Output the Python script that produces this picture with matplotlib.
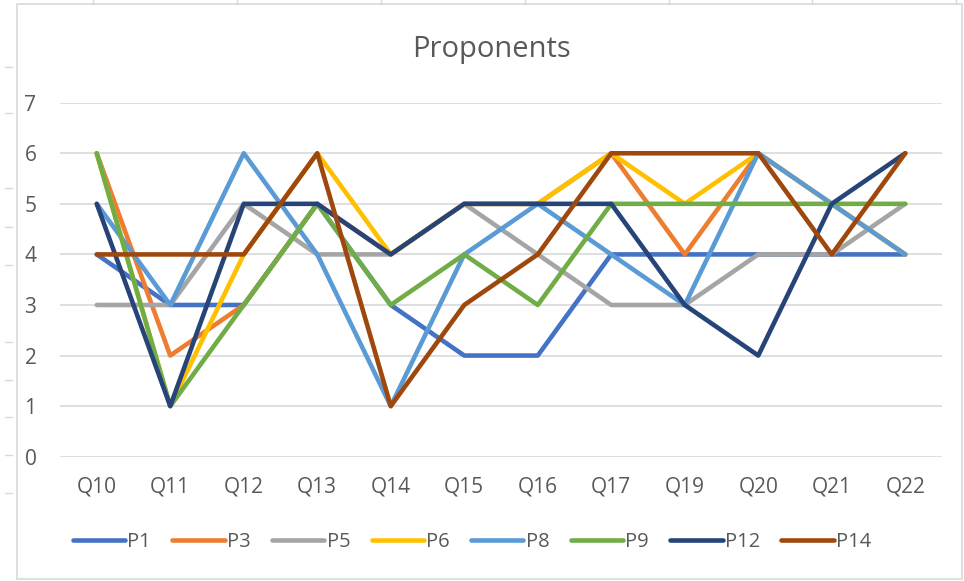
import matplotlib
matplotlib.use("Agg")
import matplotlib.pyplot as plt
from matplotlib.lines import Line2D
from matplotlib.patches import Rectangle

### Chart data
categories = ["Q10", "Q11", "Q12", "Q13", "Q14", "Q15",
              "Q16", "Q17", "Q19", "Q20", "Q21", "Q22"]
series_names = ["P1", "P3", "P5", "P6", "P8", "P9", "P12", "P14"]
p1 = [4, 3, 3, 5, 3, 2, 2, 4, 4, 4, 4, 4]
p3 = [6, 2, 3, 5, 4, 5, 5, 6, 4, 6, 5, 4]
p5 = [3, 3, 5, 4, 4, 5, 4, 3, 3, 4, 4, 5]
p6 = [6, 1, 4, 6, 4, 5, 5, 6, 5, 6, 5, 4]
p8 = [5, 3, 6, 4, 1, 4, 5, 4, 3, 6, 5, 4]
p9 = [6, 1, 3, 5, 3, 4, 3, 5, 5, 5, 5, 5]
p12 = [5, 1, 5, 5, 4, 5, 5, 5, 3, 2, 5, 6]
p14 = [4, 4, 4, 6, 1, 3, 4, 6, 6, 6, 4, 6]
y_ticks = [0, 1, 2, 3, 4, 5, 6, 7]

colors = ["#4472C4", "#ED7D31", "#A5A5A5", "#FFC000",
          "#5B9BD5", "#70AD47", "#264478", "#9E480E"]
text_grey = "#595959"
grid_grey = "#D9D9D9"

plt.rcParams["font.family"] = ["Open Sans", "DejaVu Sans"]

W, H = 964, 581
fig = plt.figure(figsize=(W / 100, H / 100), dpi=100)

# Excel sheet frame around the chart
fig.add_artist(Rectangle((17 / W, 2 / H), (W - 19) / W, (H - 6) / H,
                         transform=fig.transFigure, fill=False,
                         edgecolor=grid_grey, linewidth=1.2))
for px in [93, 237, 381, 525, 669, 812, 956]:
    fig.add_artist(Line2D([px / W, px / W], [(H - 4) / H, 1.0],
                          transform=fig.transFigure, color=grid_grey, lw=1))
for py in [67, 113, 188, 227, 265, 342, 380, 417, 455, 493]:
    fig.add_artist(Line2D([5 / W, 12 / W], [(H - py) / H, (H - py) / H],
                          transform=fig.transFigure, color=grid_grey, lw=1))

ax = fig.add_axes([60 / W, (H - 456.7) / H, 882 / W, 354 / H])
x = list(range(len(categories)))
for name, values, color in zip(series_names,
                               [p1, p3, p5, p6, p8, p9, p12, p14], colors):
    ax.plot(x, values, color=color, linewidth=3.3, label=name,
            solid_joinstyle="round", solid_capstyle="round")

ax.set_xlim(-0.5, len(categories) - 0.5)
ax.set_ylim(0, 7)
ax.set_yticks(y_ticks)
ax.set_xticks(x)
ax.set_xticklabels(categories)
ax.grid(axis="y", color=grid_grey, linewidth=1.2)
ax.set_axisbelow(True)
for spine in ax.spines.values():
    spine.set_visible(False)
ax.tick_params(axis="both", length=0, labelsize=15, colors=text_grey)
ax.tick_params(axis="y", pad=17)
ax.tick_params(axis="x", pad=14)

fig.text(491 / W, (H - 49) / H, "Proponents", ha="center", va="center",
         fontsize=21, color=text_grey)

fig.legend(loc="center", bbox_to_anchor=(472 / W, (H - 542) / H), ncol=8,
           frameon=False, fontsize=14.5, handlelength=2.6, handletextpad=0.12,
           columnspacing=1.05, labelcolor=text_grey)

fig.savefig("out.png", dpi=100)
